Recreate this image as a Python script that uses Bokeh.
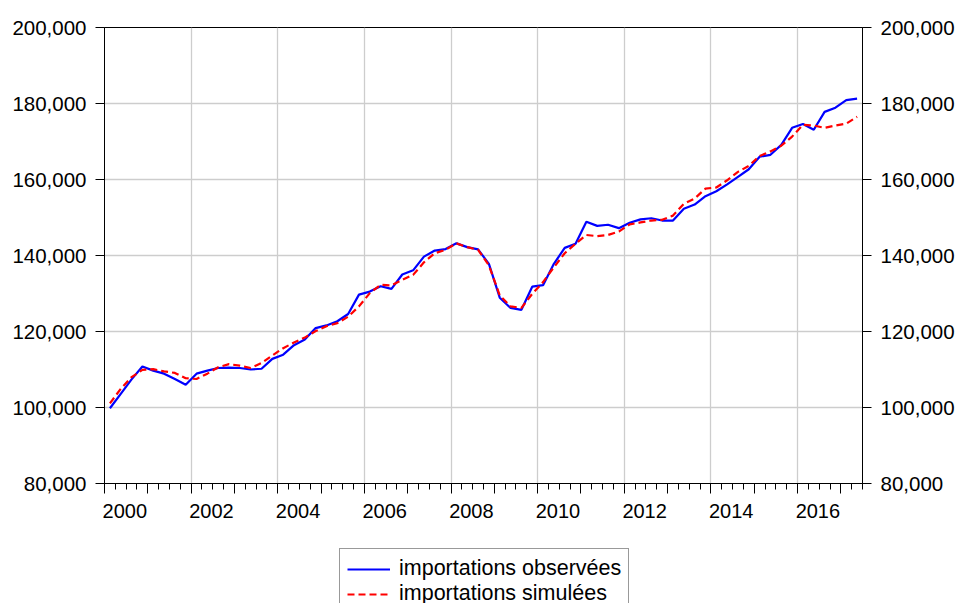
from bokeh.plotting import figure
from bokeh.layouts import column
from bokeh.models import (Range1d, LinearAxis, FixedTicker, NumeralTickFormatter,
                          Legend, LegendItem, CustomJSTickFormatter)
from bokeh.embed import file_html
from bokeh.resources import INLINE

start_year = 2000
end_year = 2017.5

observed = [
    99800, 103600, 107400, 110800, 109700, 108900, 107500, 106000,
    108900, 109700, 110400, 110500, 110400, 110000, 110200, 112800,
    113900, 116400, 117900, 120900, 121600, 122700, 124600, 129700,
    130500, 131900, 131200, 135000, 136100, 139700, 141300, 141700,
    143200, 142200, 141600, 137800, 128900, 126200, 125700, 131800,
    132200, 137800, 142000, 143100, 148900, 147800, 148100, 147200,
    148600, 149500, 149800, 149200, 149200, 152300, 153400, 155600,
    156900, 158700, 160700, 162700, 166000, 166500, 169100, 173600,
    174600, 173100, 177800, 178900, 180900, 181300,
]
simulated = [
    101100, 104900, 108000, 109900, 110100, 109500, 109100, 107700,
    107500, 108900, 110600, 111400, 111000, 110400, 111700, 113700,
    115600, 117100, 118400, 120100, 121400, 122200, 123900, 126600,
    130100, 132300, 132100, 133600, 134900, 138200, 140600, 141500,
    143200, 142200, 141500, 137400, 129500, 126600, 126200, 129900,
    133000, 136900, 140600, 143100, 145400, 145100, 145400, 146300,
    148200, 148700, 149200, 149400, 150500, 153600, 155000, 157600,
    157900, 159800, 162000, 163600, 166200, 167400, 168900, 171300,
    174400, 174200, 173600, 174200, 174700, 176500,
]
series_names = ["importations observées", "importations simulées"]
year_ticks = list(range(2000, 2018))
label_years = list(range(2000, 2017, 2))
y_ticks = [80000, 100000, 120000, 140000, 160000, 180000, 200000]

x = [start_year + (i + 0.5) / 4 for i in range(len(observed))]
quarter_ticks = [start_year + k / 4 for k in range(int((end_year - start_year) * 4) + 1)]

FONT = "Liberation Sans"
BLUE = "#0000ff"
RED = "#ff0000"
DASH = "7 4"

p = figure(width=960, height=546, output_backend="svg", toolbar_location=None,
           x_range=Range1d(start_year, end_year), y_range=Range1d(80000, 200000),
           min_border_left=104, min_border_right=98, min_border_top=27,
           min_border_bottom=63)
p.background_fill_color = "white"
p.border_fill_color = "white"
p.outline_line_color = "black"
p.outline_line_width = 1

# x axis (ticks only)
xa = p.xaxis[0]
xa.ticker = FixedTicker(ticks=year_ticks, minor_ticks=quarter_ticks)
xa.formatter = CustomJSTickFormatter(code="return ''")
xa.major_tick_out = 10
xa.major_tick_in = 0
xa.minor_tick_out = 6
xa.minor_tick_in = 0
xa.major_label_standoff = 0
xa.axis_line_color = "black"
xa.major_tick_line_color = "black"
xa.minor_tick_line_color = "black"

# x axis labels (left-aligned with year ticks)
xb = LinearAxis(ticker=FixedTicker(ticks=[yr + 0.47 for yr in label_years], minor_ticks=[]),
                formatter=CustomJSTickFormatter(code="return String(Math.floor(tick))"))
xb.major_tick_out = 0
xb.major_tick_in = 0
xb.axis_line_color = None
xb.major_label_standoff = 10
xb.major_label_text_font = FONT
xb.major_label_text_font_size = "20px"
xb.major_label_text_color = "black"
p.add_layout(xb, "below")

# y axes
ya = p.yaxis[0]
yr_axis = LinearAxis()
p.add_layout(yr_axis, "right")
for ax in (ya, yr_axis):
    ax.ticker = FixedTicker(ticks=y_ticks, minor_ticks=[])
    ax.formatter = NumeralTickFormatter(format="0,0")
    ax.major_tick_out = 9
    ax.major_tick_in = 0
    ax.minor_tick_out = 0
    ax.minor_tick_in = 0
    ax.major_label_standoff = 9
    ax.major_label_text_font = FONT
    ax.major_label_text_font_size = "20.5px"
    ax.major_label_text_color = "black"
    ax.axis_line_color = "black"
    ax.major_tick_line_color = "black"

# grids
p.xgrid.ticker = FixedTicker(ticks=label_years[1:])
p.ygrid.ticker = FixedTicker(ticks=y_ticks[1:-1])
for g in (p.xgrid, p.ygrid):
    g.grid_line_color = "#cdcdcd"
    g.grid_line_width = 1.3

p.line(x, observed, line_color=BLUE, line_width=2.2)
p.line(x, simulated, line_color=RED, line_width=2.2, line_dash=DASH)

# legend strip below the chart
q = figure(width=960, height=57, output_backend="svg", toolbar_location=None,
           x_range=Range1d(0, 1), y_range=Range1d(0, 1), min_border=0,
           x_axis_location=None, y_axis_location=None)
q.outline_line_color = None
q.grid.visible = False
q.background_fill_color = "white"
q.border_fill_color = "white"
l1 = q.line(x, observed, line_color=BLUE, line_width=2.2)
l2 = q.line(x, simulated, line_color=RED, line_width=2.2, line_dash=DASH)

legend = Legend(items=[LegendItem(label=series_names[0], renderers=[l1]),
                       LegendItem(label=series_names[1], renderers=[l2])],
                location=(235, -11))
legend.border_line_color = "#333333"
legend.border_line_width = 1
legend.background_fill_color = "white"
legend.background_fill_alpha = 1
legend.padding = 7
legend.spacing = 0
legend.margin = 0
legend.label_standoff = 9
legend.glyph_width = 43
legend.glyph_height = 22
legend.label_height = 22
legend.label_text_font = FONT
legend.label_text_font_size = "21.5px"
legend.label_text_color = "black"
q.add_layout(legend, "center")

layout = column(p, q, spacing=0)
open("out.html", "w").write(file_html(layout, INLINE))
